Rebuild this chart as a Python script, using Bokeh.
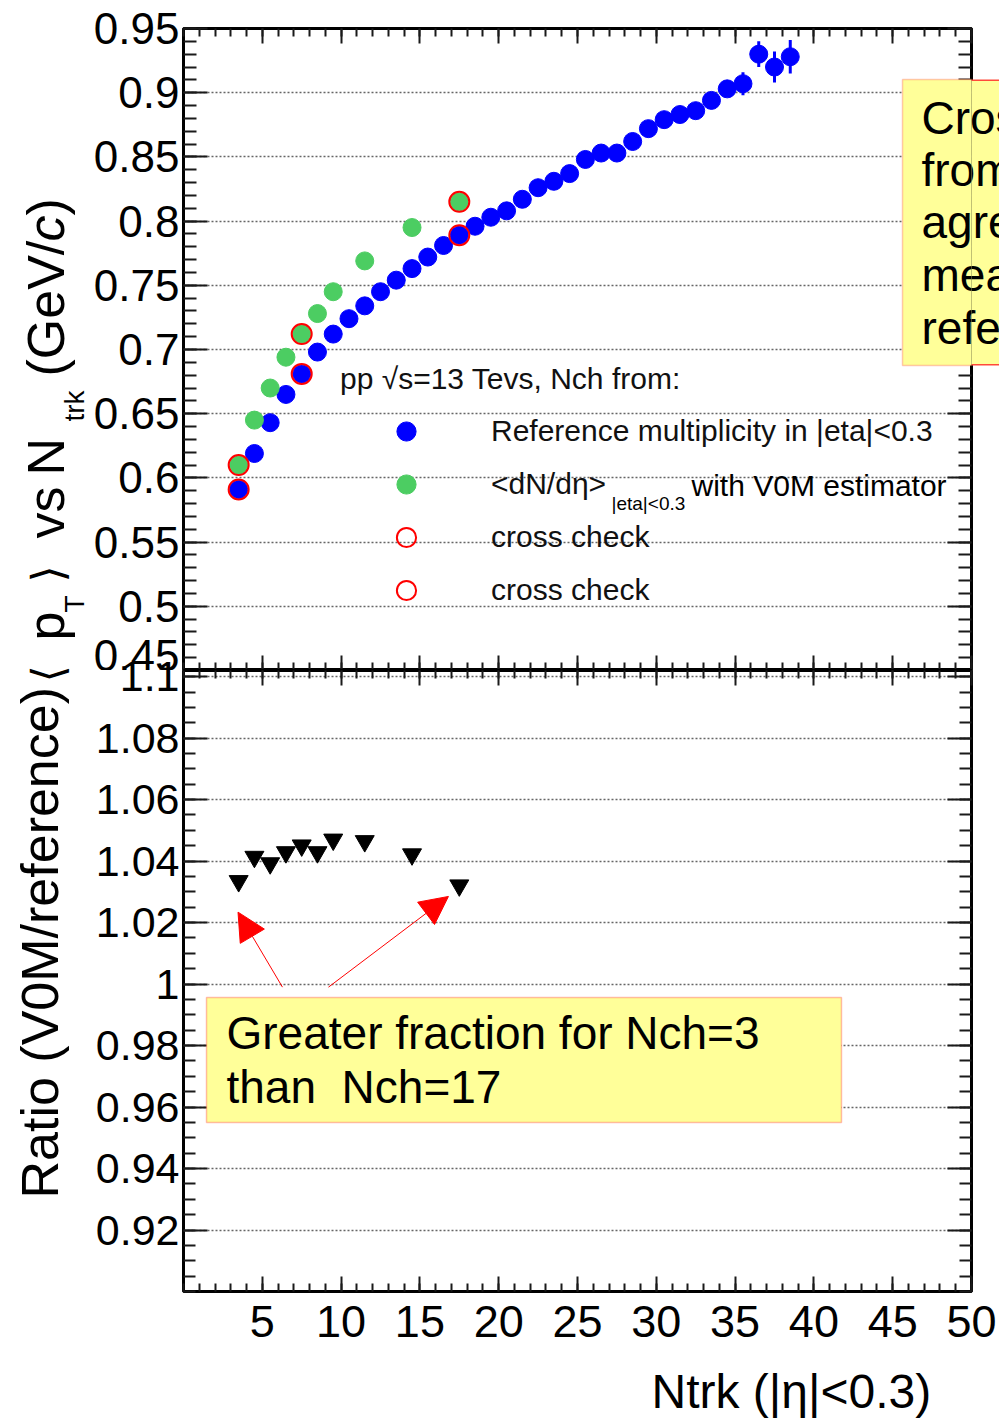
import numpy as np
from bokeh.core.properties import value
from bokeh.embed import file_html
from bokeh.layouts import column, row
from bokeh.models import (Arrow, BoxAnnotation, CustomJSTickFormatter, FixedTicker,
                          Label, Legend, LegendItem, LinearAxis, NormalHead, Range1d)
from bokeh.plotting import figure
from bokeh.resources import INLINE

FONT = "Liberation Sans"
BLUE = "#0000ff"
GREEN = "#4ccd62"
RED = "#ff0000"
NOTE_FILL = "#ffff99"
NOTE_EDGE = "#ff4a3a"

# <pT> vs Ntrk, reference multiplicity estimator (bin centres)
ntrk_ref = [3.5, 4.5, 5.5, 6.5, 7.5, 8.5, 9.5, 10.5, 11.5, 12.5, 13.5, 14.5,
            15.5, 16.5, 17.5, 18.5, 19.5, 20.5, 21.5, 22.5, 23.5, 24.5, 25.5, 26.5,
            27.5, 28.5, 29.5, 30.5, 31.5, 32.5, 33.5, 34.5, 35.5, 36.5, 37.5, 38.5]
mean_pt_ref = [0.591, 0.619, 0.643, 0.665, 0.681, 0.698, 0.712, 0.724, 0.734, 0.745,
               0.754, 0.763, 0.772, 0.781, 0.789, 0.796, 0.803, 0.808, 0.817, 0.826,
               0.831, 0.837, 0.848, 0.853, 0.853, 0.862, 0.872, 0.879, 0.883, 0.886,
               0.894, 0.903, 0.907, 0.930, 0.920, 0.928]
mean_pt_ref_err = [0.002, 0.002, 0.002, 0.002, 0.002, 0.002, 0.002, 0.002, 0.002, 0.002,
                   0.002, 0.002, 0.002, 0.002, 0.002, 0.002, 0.002, 0.002, 0.002, 0.003,
                   0.003, 0.003, 0.003, 0.003, 0.003, 0.003, 0.003, 0.004, 0.004, 0.004,
                   0.005, 0.006, 0.009, 0.010, 0.012, 0.013]

# <pT> with the V0M estimator
ntrk_v0m = [3.5, 4.5, 5.5, 6.5, 7.5, 8.5, 9.5, 11.5, 14.5, 17.5]
mean_pt_v0m = [0.610, 0.645, 0.670, 0.694, 0.712, 0.728, 0.745, 0.769, 0.795, 0.815]

# ratio V0M / reference
ratio_v0m_ref = [1.0335, 1.0414, 1.0393, 1.0429, 1.0451, 1.0429, 1.0470, 1.0465, 1.0422, 1.0321]

# bins repeated as cross check
cross_check_ntrk = [3.5, 7.5, 17.5]

x_ticks = [5, 10, 15, 20, 25, 30, 35, 40, 45, 50]
pt_ticks = [0.45, 0.5, 0.55, 0.6, 0.65, 0.7, 0.75, 0.8, 0.85, 0.9, 0.95]
ratio_ticks = [0.92, 0.94, 0.96, 0.98, 1, 1.02, 1.04, 1.06, 1.08, 1.1]

x_minor = list(range(0, 51))
pt_minor = np.round(np.arange(0.45, 0.9501, 0.01), 3).tolist()
ratio_minor = np.round(np.arange(0.9, 1.1001, 0.005), 4).tolist()

note_lines = ["Cross check", "from", "agrees", "mean", "reference"]

# page geometry (pixels)
PAGE_W, PAGE_H = 999, 1418
TITLE_W = 90
PLOT_W = 909
B_LEFT, B_RIGHT = 93, 28
TOP_B, TOP_FRAME_H = 28, 642
OVERLAP, BOT_FRAME_H, BOT_B = 20, 621, 60
FRAME_X0 = TITLE_W + B_LEFT
FRAME_X1 = PAGE_W - B_RIGHT
TOP_FRAME_Y1 = TOP_B + TOP_FRAME_H
BOT_FRAME_Y1 = TOP_FRAME_Y1 + BOT_FRAME_H
XT_Y0 = BOT_FRAME_Y1 + BOT_B
NOTE_X0, NOTE_Y0, NOTE_Y1 = 902, 79, 365
NOTE_TEXT_X = 921
NOTE_BASE = [133, 185, 237, 290, 343]
NOTE_SIZE = 46
MID = 0.33  # em-box middle above the baseline


def style_axis(ax, ticks, minor, tick_in, minor_in, label_size=None, standoff=0):
    ax.ticker = FixedTicker(ticks=ticks, minor_ticks=minor)
    ax.formatter = CustomJSTickFormatter(code="return tick.toString()")
    ax.axis_line_color = None
    ax.major_tick_in = tick_in
    ax.major_tick_out = 0
    ax.minor_tick_in = minor_in
    ax.minor_tick_out = 0
    ax.major_tick_line_color = "#1a1a1a"
    ax.major_tick_line_width = 2
    ax.minor_tick_line_color = "#1a1a1a"
    ax.minor_tick_line_width = 2
    ax.axis_label = None
    if label_size:
        ax.major_label_text_font = FONT
        ax.major_label_text_font_size = label_size
        ax.major_label_text_color = "black"
        ax.major_label_standoff = standoff
    else:
        # mirrored tick marks only
        ax.major_label_text_font_size = "1px"
        ax.major_label_text_color = None
        ax.major_label_text_alpha = 0
        ax.major_label_standoff = 0


def style_frame(p, ticks):
    p.outline_line_color = "black"
    p.outline_line_width = 3
    p.outline_line_alpha = 1
    p.xgrid.visible = False
    p.ygrid.ticker = FixedTicker(ticks=ticks)
    p.ygrid.grid_line_color = "#666666"
    p.ygrid.grid_line_dash = "2 2"
    p.ygrid.grid_line_width = 1.6


def label(frame_bottom, X, baseline, text, size_px, **kw):
    return Label(x=X - FRAME_X0, y=frame_bottom - (baseline - MID * size_px),
                 x_units="screen", y_units="screen", text=text, text_font=FONT,
                 text_font_size=f"{size_px}px", text_color="black",
                 text_baseline="middle", **kw)


def bare(width, height, xr, yr, **kw):
    opts = dict(min_border=0)
    opts.update(kw)
    p = figure(width=width, height=height, x_range=Range1d(*xr), y_range=Range1d(*yr),
               output_backend="svg", toolbar_location=None,
               x_axis_location=None, y_axis_location=None, outline_line_color=None,
               border_fill_color=None, background_fill_color=None, **opts)
    p.grid.visible = False
    return p


# ---------------- upper panel: <pT> ----------------
top = figure(width=PLOT_W, height=TOP_B + TOP_FRAME_H, x_range=Range1d(0, 50),
             y_range=Range1d(0.45, 0.95), output_backend="svg", toolbar_location=None,
             min_border_left=B_LEFT, min_border_right=B_RIGHT, min_border_top=TOP_B,
             min_border_bottom=0)
top.add_layout(LinearAxis(), "right")
top.add_layout(LinearAxis(), "above")
style_axis(top.yaxis[0], pt_ticks, pt_minor, 24, 13, "44px", 4)
style_axis(top.yaxis[1], pt_ticks, pt_minor, 24, 13)
for ax in top.xaxis:
    style_axis(ax, x_ticks, x_minor, 15, 8)
style_frame(top, pt_ticks)

lo = (np.array(mean_pt_ref) - np.array(mean_pt_ref_err)).tolist()
hi = (np.array(mean_pt_ref) + np.array(mean_pt_ref_err)).tolist()
top.segment(x0=ntrk_ref, y0=lo, x1=ntrk_ref, y1=hi, line_color=BLUE, line_width=3)
r_ref = top.scatter(ntrk_ref, mean_pt_ref, marker="circle", size=18,
                    fill_color=BLUE, line_color=BLUE)
r_v0m = top.scatter(ntrk_v0m, mean_pt_v0m, marker="circle", size=18,
                    fill_color=GREEN, line_color=GREEN)
cc_ref = [mean_pt_ref[ntrk_ref.index(n)] for n in cross_check_ntrk]
cc_v0m = [mean_pt_v0m[ntrk_v0m.index(n)] for n in cross_check_ntrk]
r_cc1 = top.scatter(cross_check_ntrk, cc_ref, marker="circle", size=20,
                    fill_color=None, line_color=RED, line_width=2)
r_cc2 = top.scatter(cross_check_ntrk, cc_v0m, marker="circle", size=20,
                    fill_color=None, line_color=RED, line_width=2)

legend = Legend(
    items=[LegendItem(label=value("Reference multiplicity in |eta|<0.3"), renderers=[r_ref]),
           LegendItem(label=value("<dN/dη>"), renderers=[r_v0m]),
           LegendItem(label=value("cross check"), renderers=[r_cc1]),
           LegendItem(label=value("cross check"), renderers=[r_cc2])],
    title="pp √s=13 Tevs, Nch from:", title_text_font=FONT, title_text_font_size="30px",
    title_text_font_style="normal", title_text_color="#111111", title_standoff=11,
    location=(157, 56), padding=0, margin=0, spacing=5,
    glyph_width=132, glyph_height=48, label_height=48, label_standoff=19,
    label_text_font=FONT, label_text_font_size="30px", label_text_color="#111111",
    background_fill_alpha=0, border_line_alpha=0)
top.add_layout(legend)
top.add_layout(label(TOP_FRAME_Y1, 611, 509, "|eta|<0.3", 19))
top.add_layout(label(TOP_FRAME_Y1, 691, 495, "with V0M estimator", 30))

# note box: the part inside the frame (continued by the strip on the right)
note_left = (NOTE_X0 - FRAME_X0) / (FRAME_X1 - FRAME_X0) * 50
note_top = 0.95 - (NOTE_Y0 - TOP_B) / TOP_FRAME_H * 0.5
note_bottom = 0.95 - (NOTE_Y1 - TOP_B) / TOP_FRAME_H * 0.5
top.add_layout(BoxAnnotation(left=note_left, right=55, top=note_top, bottom=note_bottom,
                             fill_color=NOTE_FILL, fill_alpha=1,
                             line_color=NOTE_EDGE, line_width=1.5))
for b, t in zip(NOTE_BASE, note_lines):
    top.add_layout(label(TOP_FRAME_Y1, NOTE_TEXT_X, b, t, NOTE_SIZE))

# ---------------- lower panel: ratio ----------------
bottom = figure(width=PLOT_W, height=OVERLAP + BOT_FRAME_H + BOT_B, x_range=Range1d(0, 50),
                y_range=Range1d(0.9, 1.102), output_backend="svg", toolbar_location=None,
                min_border_left=B_LEFT, min_border_right=B_RIGHT, min_border_top=OVERLAP,
                min_border_bottom=BOT_B, margin=(-OVERLAP, 0, 0, 0), border_fill_color=None)
bottom.add_layout(LinearAxis(), "right")
bottom.add_layout(LinearAxis(), "above")
style_axis(bottom.yaxis[0], ratio_ticks, ratio_minor, 24, 12, "43px", 4)
style_axis(bottom.yaxis[1], ratio_ticks, ratio_minor, 24, 12)
style_axis(bottom.xaxis[0], x_ticks, x_minor, 15, 8)
style_axis(bottom.xaxis[1], x_ticks, x_minor, 15, 8, "45px", 14)
style_frame(bottom, ratio_ticks)

bottom.scatter(ntrk_v0m, ratio_v0m_ref, marker="inverted_triangle", size=19,
               fill_color="black", line_color="black")

bottom.add_layout(BoxAnnotation(left=1.46, right=41.75, top=0.9956, bottom=0.9550,
                                fill_color=NOTE_FILL, fill_alpha=1,
                                line_color="#ff2020", line_width=1.5))
bottom.add_layout(label(BOT_FRAME_Y1, 226, 1048, "Greater fraction for Nch=3", 46))
bottom.add_layout(label(BOT_FRAME_Y1, 226, 1102, "than\u00a0 Nch=17", 46))
for xs, ys, xe, ye in [(6.28, 0.9990, 3.46, 1.0234), (9.20, 0.9990, 16.81, 1.0285)]:
    bottom.add_layout(Arrow(x_start=xs, y_start=ys, x_end=xe, y_end=ye,
                            line_color=RED, line_width=1,
                            end=NormalHead(size=28, fill_color=RED, line_color=RED)))

# ---------------- x title ----------------
xt = bare(PLOT_W, PAGE_H - XT_Y0, (FRAME_X0, FRAME_X1), (PAGE_H, XT_Y0),
          min_border_left=B_LEFT, min_border_right=B_RIGHT, min_border_top=0,
          min_border_bottom=0)
xt.text(x=[651], y=[1407 - MID * 48], text=["Ntrk (|η|<0.3)"], text_font=value(FONT),
        text_font_size=value("48px"), text_color="black", text_align="left",
        text_baseline="middle")

# ---------------- shared y title ----------------
ttl = bare(TITLE_W, PAGE_H, (0, TITLE_W), (PAGE_H, 0))
pieces = [
    # (baseline x, start y, text, size px, font, style)
    (57, 1198, "Ratio (V0M/reference)", 52, FONT, "normal"),
    (62, 682, "⟨", 44, "DejaVu Sans", "normal"),
    (63, 640, "p", 52, FONT, "normal"),
    (83, 612, "T", 28, FONT, "normal"),
    (62, 582, "⟩", 44, "DejaVu Sans", "normal"),
    (63, 538, "vs", 52, FONT, "normal"),
    (63, 475, "N", 52, FONT, "normal"),
    (83, 421, "trk", 28, FONT, "normal"),
    (63, 376, "(GeV/", 52, FONT, "normal"),
    (63, 241, "c", 52, FONT, "italic"),
    (63, 215, ")", 52, FONT, "normal"),
]
for X, Y, t, size, font, style in pieces:
    ttl.text(x=[X - MID * size], y=[Y], text=[t], angle=np.pi / 2, text_font=value(font),
             text_font_size=value(f"{size}px"), text_font_style=style, text_color="black",
             text_align="left", text_baseline="middle")

# ---------------- right strip: note box running off the page edge ----------------
STRIP_W = PAGE_W - FRAME_X1
strip = bare(STRIP_W, PAGE_H, (FRAME_X1, PAGE_W), (PAGE_H, 0), margin=(0, 0, 0, -STRIP_W))
strip.quad(left=[FRAME_X1 - 2], right=[PAGE_W + 10], top=[NOTE_Y0 + 0.75],
           bottom=[NOTE_Y1 - 0.75], fill_color=NOTE_FILL, line_color=None)
strip.segment(x0=[FRAME_X1 - 2] * 2, x1=[PAGE_W + 10] * 2,
              y0=[NOTE_Y0 + 0.75, NOTE_Y1 - 0.75], y1=[NOTE_Y0 + 0.75, NOTE_Y1 - 0.75],
              line_color=NOTE_EDGE, line_width=1.5)
anchor_x = FRAME_X1 + STRIP_W / 2
strip.text(x=[anchor_x] * len(note_lines), y=[b - MID * NOTE_SIZE for b in NOTE_BASE],
           text=note_lines, x_offset=NOTE_TEXT_X - anchor_x, text_font=value(FONT),
           text_font_size=value(f"{NOTE_SIZE}px"), text_color="black",
           text_align="left", text_baseline="middle")

layout = row(ttl, column(top, bottom, xt), strip)
open("out.html", "w").write(file_html(layout, INLINE, title="mean pT vs Ntrk"))
